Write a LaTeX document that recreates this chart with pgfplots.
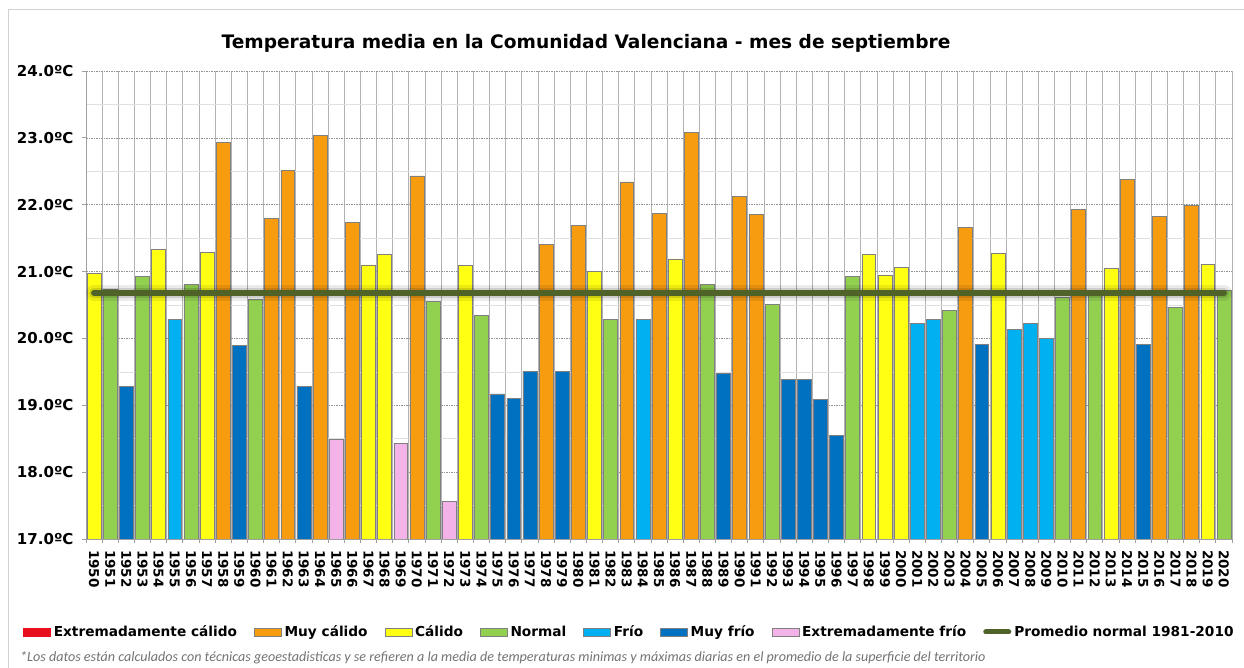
\documentclass[border=0pt]{standalone}
\usepackage{fontspec}
\setmainfont{DejaVu Sans}
\newfontfamily\carlito{Carlito}
\usepackage{pgfplots}
\usepackage{pgfplotstable}
\pgfplotsset{compat=1.18}

\definecolor{cMC}{HTML}{F79B0F}
\definecolor{cC}{HTML}{FFFF14}
\definecolor{cN}{HTML}{92D050}
\definecolor{cF}{HTML}{00B0F0}
\definecolor{cMF}{HTML}{0070C0}
\definecolor{cEF}{HTML}{F4B3E8}
\definecolor{cEC}{HTML}{E8101E}
\definecolor{cLine}{HTML}{4F6228}

\pgfplotstableread{
year t
1958 22.93
1961 21.80
1962 22.51
1964 23.04
1966 21.74
1970 22.43
1978 21.41
1980 21.69
1983 22.34
1985 21.87
1987 23.08
1990 22.13
1991 21.86
2004 21.66
2011 21.93
2014 22.38
2016 21.82
2018 21.99
}\tMC
\pgfplotstableread{
year t
1950 20.97
1954 21.33
1957 21.29
1967 21.10
1968 21.26
1973 21.09
1981 21.00
1986 21.19
1998 21.26
1999 20.95
2000 21.06
2006 21.27
2013 21.05
2019 21.11
}\tC
\pgfplotstableread{
year t
1951 20.74
1953 20.93
1956 20.81
1960 20.59
1971 20.55
1974 20.35
1982 20.29
1988 20.81
1992 20.51
1997 20.93
2003 20.42
2010 20.62
2012 20.66
2017 20.47
2020 20.72
}\tN
\pgfplotstableread{
year t
1955 20.29
1984 20.28
2001 20.23
2002 20.28
2007 20.13
2008 20.23
2009 20.00
}\tF
\pgfplotstableread{
year t
1952 19.28
1959 19.90
1963 19.28
1975 19.17
1976 19.10
1977 19.51
1979 19.51
1989 19.48
1993 19.39
1994 19.39
1995 19.09
1996 18.55
2005 19.91
2015 19.91
}\tMF
\pgfplotstableread{
year t
1965 18.49
1969 18.43
1972 17.56
}\tEF

\pgfplotsset{
  mybar/.style={ybar, bar width=0.86, bar shift=0pt, draw=black!50, line width=0.5pt,
    legend image code/.code={\draw[##1, line width=0.5pt] (0pt,-3.8pt) rectangle (27pt,3.8pt);}},
}

\begin{document}
\begin{tikzpicture}
\useasboundingbox (0,0) rectangle (1244pt,668pt);
\fill[white] (0,0) rectangle (1244pt,668pt);
\draw[gray!35, line width=1pt] (8pt,0pt) -- (8pt,658pt) -- (1244pt,658pt);
\begin{axis}[
  at={(86pt,129pt)}, anchor=south west,
  scale only axis, width=1146pt, height=468pt,
  xmin=1949.5, xmax=2020.5, ymin=17, ymax=24,
  axis x line*=bottom, axis y line*=left,
  axis line style={draw=gray!75, line width=0.8pt},
  xtick={1949.5,1950.5,...,2020.5}, xticklabels={},
  xmajorgrids,
  major x grid style={gray!60, line width=0.7pt},
  ytick={17,18,...,24},
  yticklabels={17.0ºC,18.0ºC,19.0ºC,20.0ºC,21.0ºC,22.0ºC,23.0ºC,24.0ºC},
  minor ytick={17.5,18.5,...,23.5},
  ymajorgrids, yminorgrids,
  major y grid style={gray!85, dash pattern=on 1.5pt off 1pt, line width=0.6pt},
  minor y grid style={gray!25, line width=0.6pt},
  tick align=outside, major tick length=4pt, minor tick length=0pt,
  tick style={gray!75, line width=0.8pt},
  extra x ticks={1950,1951,...,2020},
  extra x tick labels={1950,1951,1952,1953,1954,1955,1956,1957,1958,1959,1960,1961,1962,1963,1964,1965,1966,1967,1968,1969,1970,1971,1972,1973,1974,1975,1976,1977,1978,1979,1980,1981,1982,1983,1984,1985,1986,1987,1988,1989,1990,1991,1992,1993,1994,1995,1996,1997,1998,1999,2000,2001,2002,2003,2004,2005,2006,2007,2008,2009,2010,2011,2012,2013,2014,2015,2016,2017,2018,2019,2020},
  extra x tick style={grid=none, major tick length=0pt},
  xticklabel style={font=\fontsize{13.5}{16}\selectfont\bfseries, inner sep=0pt, yshift=-11pt, rotate=-90, anchor=west},
  yticklabel style={font=\fontsize{15}{18}\selectfont\bfseries, xshift=-5pt},
  legend columns=-1,
  legend style={at={(0.4747,-0.1987)}, anchor=center, draw=none, fill=none,
    font=\fontsize{13.7}{16}\selectfont\bfseries,
    nodes={inner xsep=3pt},
    /tikz/every even column/.append style={column sep=14pt}},
]
\addlegendimage{area legend, fill=cEC, draw=cEC, legend image code/.code={\draw[fill=cEC, draw=cEC] (0pt,-3.8pt) rectangle (27pt,3.8pt);}}
\addlegendentry{Extremadamente cálido}
\addplot[mybar, fill=cMC] table[x=year,y=t]{\tMC};
\addlegendentry{Muy cálido}
\addplot[mybar, fill=cC] table[x=year,y=t]{\tC};
\addlegendentry{Cálido}
\addplot[mybar, fill=cN] table[x=year,y=t]{\tN};
\addlegendentry{Normal}
\addplot[mybar, fill=cF] table[x=year,y=t]{\tF};
\addlegendentry{Frío}
\addplot[mybar, fill=cMF] table[x=year,y=t]{\tMF};
\addlegendentry{Muy frío}
\addplot[mybar, fill=cEF] table[x=year,y=t]{\tEF};
\addlegendentry{Extremadamente frío}
\addplot[forget plot, black, opacity=0.08, line width=16pt, line cap=round] coordinates {(1950,20.68) (2020,20.68)};
\addplot[forget plot, black, opacity=0.12, line width=10pt, line cap=round] coordinates {(1950,20.68) (2020,20.68)};
\addplot[cLine, line width=6pt, line cap=round,
  legend image code/.code={\draw[cLine, line width=5pt, line cap=round] (2pt,0pt) -- (25pt,0pt);}]
  coordinates {(1950,20.68) (2020,20.68)};
\addlegendentry{Promedio normal 1981-2010}
\end{axis}
\node[font=\fontsize{18.6}{22}\selectfont\bfseries] at (586pt,625pt)
  {Temperatura media en la Comunidad Valenciana - mes de septiembre};
\node[anchor=west, font=\carlito\itshape\fontsize{14.1}{16}\selectfont, text=black!55, inner sep=0pt] at (20pt,10pt)
  {*Los datos están calculados con técnicas geoestadisticas y se refieren a la media de temperaturas minimas y máximas diarias en el promedio de la superficie del territorio};
\end{tikzpicture}
\end{document}
